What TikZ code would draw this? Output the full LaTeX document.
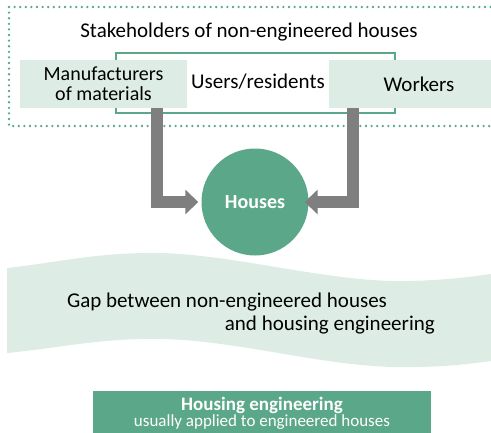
\documentclass[tikz,border=0pt]{standalone}
\usepackage{fontspec}
\setmainfont{Carlito}
\usetikzlibrary{arrows.meta}
\definecolor{hgreen}{HTML}{5BA78A}
\definecolor{hlight}{HTML}{DDEDE6}
\definecolor{hgray}{HTML}{7F7F7F}
\tikzset{
  lbl/.style={font=\fontsize{21}{18}\selectfont, text=black, inner sep=0pt, align=center},
  lightbox/.style={fill=hlight, draw=none, inner sep=0pt, text=black, align=center, font=\fontsize{20}{20}\selectfont},
  flow/.style={draw=hgray, line width=12pt, line join=miter, -{Triangle[length=13pt,width=24pt]}},
}
\begin{document}
\begin{tikzpicture}[x=1pt,y=-1pt]
\useasboundingbox (0,0) rectangle (491,432);
\clip (0,0) rectangle (491,432);
% dotted outer frame
\draw[hgreen, line width=2.6pt, dash pattern=on 0pt off 5.6pt, line cap=round] (9,7) rectangle (520,126);
\node[lbl] (title) at (249,32) {Stakeholders of non-engineered houses};
% users frame
\draw[hgreen, line width=1.3pt] (116,53) rectangle (395,113);
\node[lbl] (users) at (258,82) {Users/residents};
% side boxes
\node[lightbox, minimum width=167pt, minimum height=48pt] (manu) at (103.5,84) {Manufacturers\\of materials};
\node[lightbox, font=\fontsize{21}{18}\selectfont, minimum width=180pt, minimum height=48pt, text width=162pt] (work) at (419,84) {Workers};
% houses
\node[circle, fill=hgreen, minimum size=107pt, inner sep=0pt, text=white, font=\fontsize{20}{24}\selectfont\bfseries] (houses) at (255,202) {Houses};
% arrows
\draw[flow, shorten >=3pt] ([xshift=-30pt]manu.south east) |- (houses.west);
\draw[flow, shorten >=-4pt] ([xshift=24pt]work.south west) |- (houses.east);
% wave band
\fill[hlight] (7,268) .. controls (60,262) and (100,252) .. (160,253)
  .. controls (240,255) and (330,283) .. (410,281)
  .. controls (450,280) and (475,276) .. (491,274)
  -- (491,361) .. controls (475,363) and (450,367) .. (410,367)
  .. controls (330,369) and (240,340) .. (160,339)
  .. controls (100,338) and (60,348) .. (7,353) -- cycle;
\node[lbl] (gap1) at (227,302) {Gap between non-engineered houses};
\node[lbl, anchor=east] (gap2) at (435,325) {and housing engineering};
% bottom box
\node[fill=hgreen, minimum width=338pt, minimum height=44pt, inner sep=0pt, text=white, align=center] (eng) at (262,413)
  {{\fontsize{19}{20}\selectfont\bfseries Housing engineering}\\{\fontsize{17}{20}\selectfont usually applied to engineered houses}};
\end{tikzpicture}
\end{document}
